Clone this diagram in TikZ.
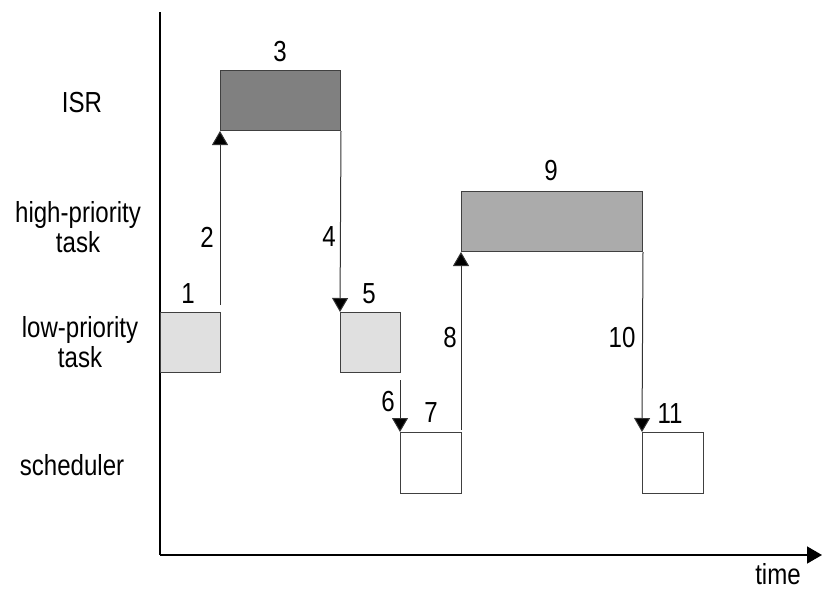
\documentclass[tikz,border=0pt]{standalone}
\usepackage{fontspec}
\setmainfont{Liberation Sans}[FakeStretch=0.83]
\usetikzlibrary{arrows.meta}

\begin{document}
\begin{tikzpicture}[x=1pt, y=-1pt,
    font=\fontsize{29}{30}\selectfont,
    taskbox/.style={rectangle, draw=black!75, line width=1pt, inner sep=0pt, anchor=north west},
    num/.style={inner sep=0pt},
    rowlabel/.style={align=center, inner sep=0pt},
    switch/.style={line width=1pt, draw=black!80, -{Triangle[length=14pt, width=16pt, fill=black]}},
    axis/.style={line width=1.5pt}]
    \useasboundingbox (0,0) rectangle (822,589);

    % time axes
    \coordinate (top) at (160,12);
    \coordinate (origin) at (160,555);
    \coordinate (end) at (822,555);
    \draw[axis] (top) -- (origin);
    \draw[axis, -{Triangle[length=15pt, width=17pt]}] (origin) -- (end);
    \node[num] (time) at (778,574) {time};

    % rows
    \node[rowlabel] (isrlabel) at (82,103) {ISR};
    \node[rowlabel] (hplabel) at (78,227) {high-priority\\task};
    \node[rowlabel] (lplabel) at (80,342) {low-priority\\task};
    \node[rowlabel] (schlabel) at (72,465) {scheduler};

    % execution slots
    \node[taskbox, fill=black!12, minimum width=60pt, minimum height=60pt] (lp1) at (160,312) {};
    \node[taskbox, fill=black!50, minimum width=120pt, minimum height=60pt] (isr) at (220,70) {};
    \node[taskbox, fill=black!12, minimum width=60pt, minimum height=60pt] (lp2) at (340,312) {};
    \node[taskbox, fill=white, minimum width=61pt, minimum height=61pt] (sch1) at (400,432) {};
    \node[taskbox, fill=black!33, minimum width=181pt, minimum height=60pt] (hp) at (461,191) {};
    \node[taskbox, fill=white, minimum width=61pt, minimum height=61pt] (sch2) at (642,432) {};

    % context switches
    \coordinate (s2) at (220,305);
    \coordinate (s6) at (400,380);
    \coordinate (s8) at (461,430);
    \draw[switch] (s2) -- (isr.south west);
    \draw[switch] (isr.south east) -- (lp2.north west);
    \draw[switch] (s6) -- (sch1.north west);
    \draw[switch] (s8) -- (hp.south west);
    \draw[switch] (hp.south east) -- (sch2.north west);

    % step numbers
    \node[num] (n1) at (188,294) {1};
    \node[num] (n2) at (207,237) {2};
    \node[num] (n3) at (280,52) {3};
    \node[num] (n4) at (329,237) {4};
    \node[num] (n5) at (369,294) {5};
    \node[num] (n6) at (388,402) {6};
    \node[num] (n7) at (431,413) {7};
    \node[num] (n8) at (450,338) {8};
    \node[num] (n9) at (551,171) {9};
    \node[num] (n10) at (622,338) {10};
    \node[num] (n11) at (670,414) {11};
\end{tikzpicture}
\end{document}
